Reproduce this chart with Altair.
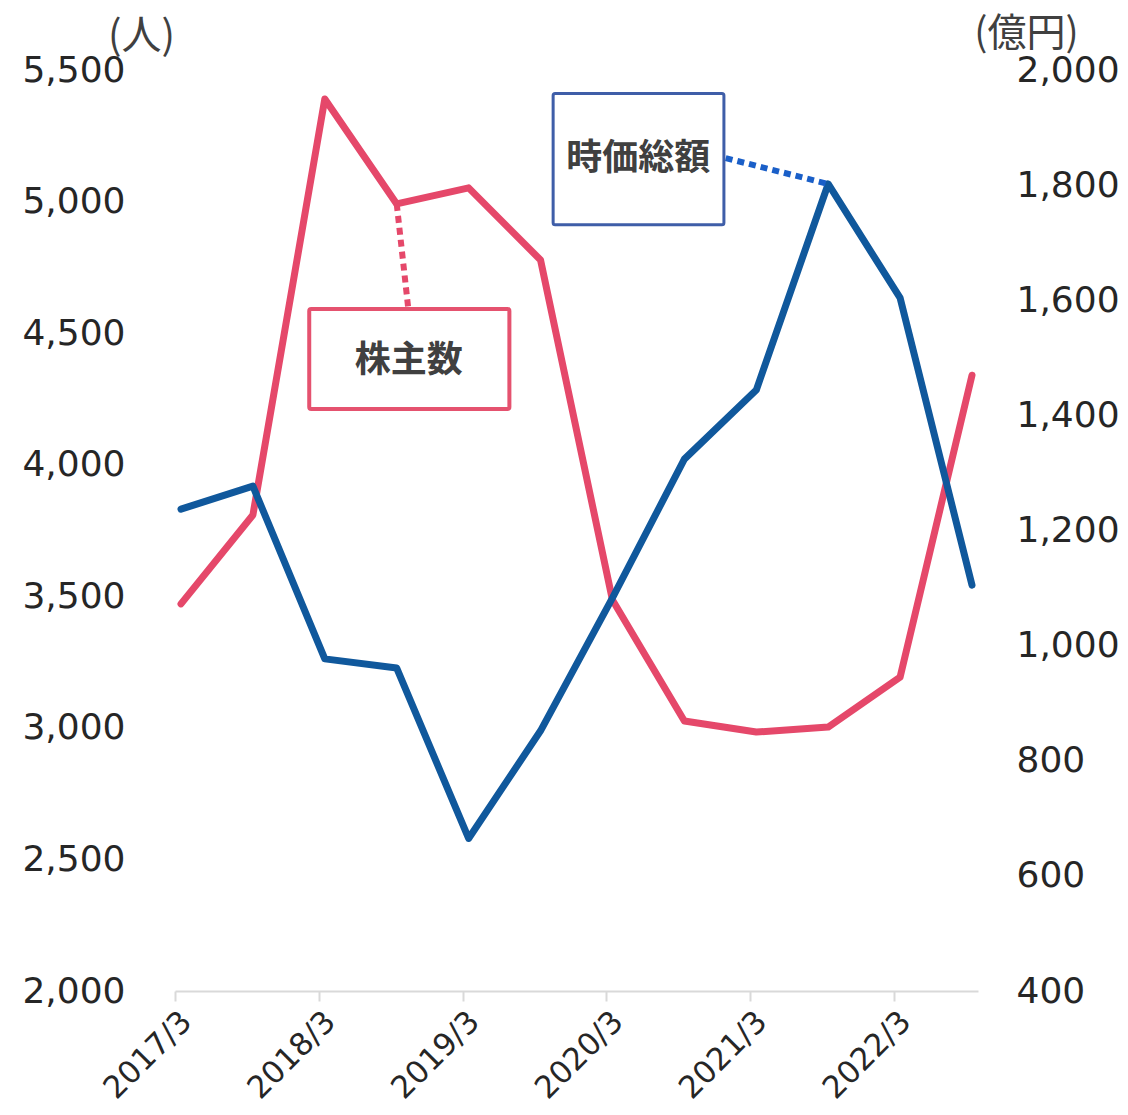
import altair as alt
import pandas as pd

# ---- data ----
periods = ["2017/3", "2017/9", "2018/3", "2018/9", "2019/3", "2019/9",
           "2020/3", "2020/9", "2021/3", "2021/9", "2022/3", "2022/9"]
shareholders = [3471, 3809, 5390, 4991, 5052, 4778, 3486, 3026, 2984, 3003, 3193, 4340]
market_cap = [1237, 1277, 977, 961, 665, 852, 1083, 1324, 1444, 1802, 1604, 1105]
tick_labels = ["2017/3", "2018/3", "2019/3", "2020/3", "2021/3", "2022/3"]

RED = "#e5486a"
BLUE = "#10589c"
CJK = "Noto Sans CJK JP"
NUM = "DejaVu Sans"


def month_index(p):
    y, m = p.split("/")
    return (int(y) - 2017) * 12 + (int(m) - 3) + 0.5   # mid-month


df = pd.DataFrame({
    "period": periods,
    "m": [month_index(p) for p in periods],
    "shareholders": shareholders,
    "cap": market_cap,
})

X_DOMAIN = [0, 67]
L_DOMAIN = [2000, 5500]
R_DOMAIN = [400, 2000]
tick_vals = [tick_labels.index(t) * 12 for t in tick_labels]

x_axis = alt.Axis(
    values=tick_vals,
    labelExpr="toString(2017 + datum.value / 12) + '/3'",
    labelAngle=-45, labelAlign="right", labelBaseline="top",
    labelPadding=5, labelOffset=1,
    labelFont=NUM, labelFontSize=31, labelColor="#262626",
    labelFlush=False, labelOverlap=False,
    domainColor="#d9d9d9", domainWidth=2,
    tickColor="#d9d9d9", tickWidth=2, tickSize=10,
    grid=False, title=None,
)
xscale = alt.Scale(domain=X_DOMAIN, nice=False, zero=False)

left_axis = alt.Axis(
    orient="left", values=list(range(2000, 5501, 500)), format=",d",
    labelFont=NUM, labelFontSize=36, labelColor="#262626", labelPadding=50,
    labelFlush=False, labelOverlap=False,
    domain=False, ticks=False, grid=False,
    title="(人)", titleAngle=0, titleX=-34, titleY=-34,
    titleAlign="center", titleBaseline="middle",
    titleFont=CJK, titleFontSize=40, titleFontWeight="normal", titleColor="#404040",
)
right_axis = alt.Axis(
    orient="right", values=list(range(400, 2001, 200)), format=",d",
    labelFont=NUM, labelFontSize=36, labelColor="#262626", labelPadding=38,
    labelFlush=False, labelOverlap=False,
    domain=False, ticks=False, grid=False,
    title="(億円)", titleAngle=0, titleX=48, titleY=-37,
    titleAlign="center", titleBaseline="middle",
    titleFont=CJK, titleFontSize=39, titleFontWeight="normal", titleColor="#404040",
)

lscale = alt.Scale(domain=L_DOMAIN, nice=False, zero=False)
rscale = alt.Scale(domain=R_DOMAIN, nice=False, zero=False)


def X(field):
    return alt.X(field, scale=xscale, axis=x_axis)


def YL(field):
    return alt.Y(field, scale=lscale, axis=left_axis)


def YR(field):
    return alt.Y(field, scale=rscale, axis=right_axis)


base = alt.Chart(df)

red_line = base.mark_line(color=RED, strokeWidth=7, strokeCap="round", strokeJoin="round").encode(
    x=X("m:Q"), y=YL("shareholders:Q"))
blue_line = base.mark_line(color=BLUE, strokeWidth=7, strokeCap="round", strokeJoin="round").encode(
    x=X("m:Q"), y=YR("cap:Q"))

# ---- annotations (callout boxes) ----
red_box = pd.DataFrame({"x": [11.2], "x2": [27.9], "y": [4592], "y2": [4212],
                        "cx": [19.5], "cy": [4394], "label": ["株主数"]})
red_conn = pd.DataFrame({"x": [month_index("2018/9")], "y": [shareholders[3]],
                         "x2": [19.45], "y2": [4599]})
blue_box = pd.DataFrame({"x": [31.55], "x2": [45.8], "y": [1959], "y2": [1731],
                         "cx": [38.65], "cy": [1845], "label": ["時価総額"]})
blue_conn = pd.DataFrame({"x": [45.95], "y": [1847],
                          "x2": [month_index("2021/9")], "y2": [market_cap[9]]})

red_conn_m = alt.Chart(red_conn).mark_rule(color=RED, strokeWidth=6, strokeDash=[7, 5]).encode(
    x=X("x:Q"), x2="x2:Q", y=YL("y:Q"), y2="y2:Q")
red_box_m = alt.Chart(red_box).mark_rect(fill="white", stroke="#e5526f", strokeWidth=4,
                                         cornerRadius=2).encode(
    x=X("x:Q"), x2="x2:Q", y=YL("y:Q"), y2="y2:Q")
red_text = alt.Chart(red_box).mark_text(font=CJK, fontSize=36, fontWeight="bold",
                                        color="#404040", baseline="middle").encode(
    x=X("cx:Q"), y=YL("cy:Q"), text="label:N")

blue_conn_m = alt.Chart(blue_conn).mark_rule(color="#1a5fc8", strokeWidth=6, strokeDash=[7, 5]).encode(
    x=X("x:Q"), x2="x2:Q", y=YR("y:Q"), y2="y2:Q")
blue_box_m = alt.Chart(blue_box).mark_rect(fill="white", stroke="#3f5ea8", strokeWidth=3,
                                           cornerRadius=2).encode(
    x=X("x:Q"), x2="x2:Q", y=YR("y:Q"), y2="y2:Q")
blue_text = alt.Chart(blue_box).mark_text(font=CJK, fontSize=36, fontWeight="bold",
                                          color="#404040", baseline="middle").encode(
    x=X("cx:Q"), y=YR("cy:Q"), text="label:N")

left_layer = alt.layer(red_line, red_conn_m, red_box_m, red_text)
right_layer = alt.layer(blue_line, blue_conn_m, blue_box_m, blue_text)

chart = alt.layer(left_layer, right_layer).resolve_scale(y="independent").properties(
    width=803, height=921,
    autosize=alt.AutoSizeParams(type="none"),
    padding={"left": 167, "top": 62, "right": 142, "bottom": 116},
).configure_view(stroke="transparent", strokeWidth=0)

chart.save("out.html", embed_options={"renderer": "svg", "actions": False})
